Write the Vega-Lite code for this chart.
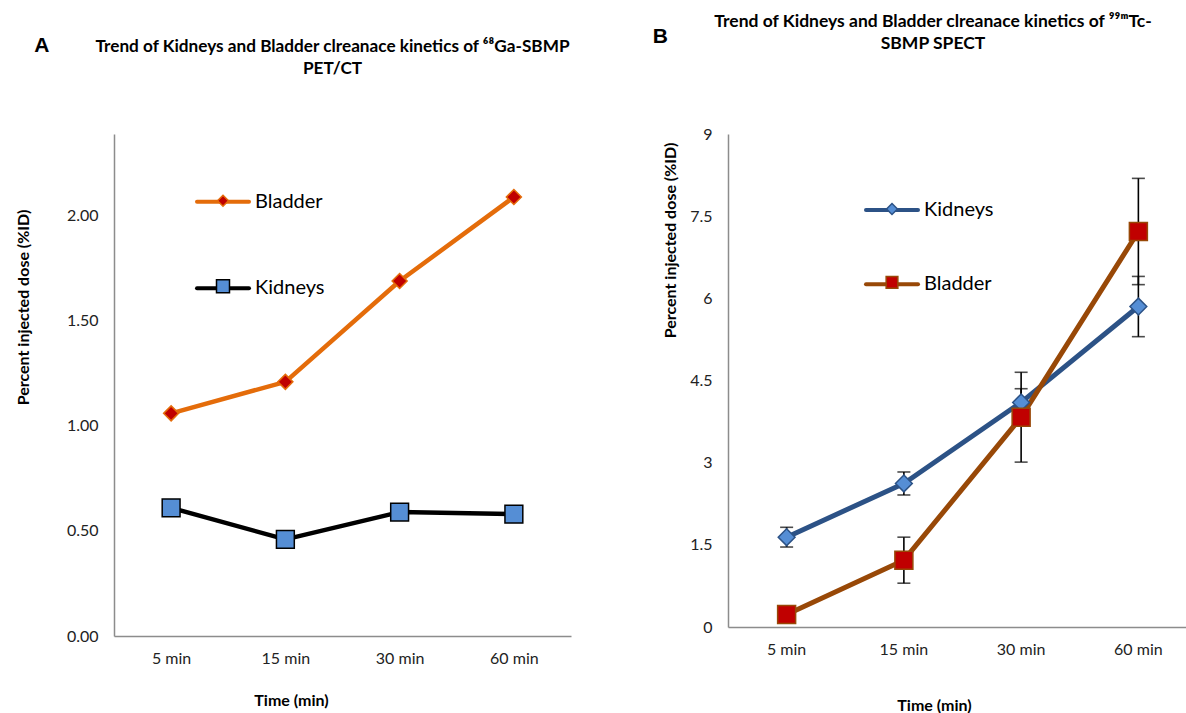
{
  "$schema": "https://vega.github.io/schema/vega-lite/v6.json",
  "background": "white",
  "padding": {"left": 15, "top": 12, "right": 0, "bottom": 0},
  "config": {
    "view": {"stroke": null},
    "font": "Lato",
    "axis": {
      "labelFont": "Lato", "labelFontSize": 16, "labelColor": "#222222",
      "titleFont": "Lato", "titleFontSize": 16, "titleFontWeight": "bold", "titleColor": "#000000",
      "domainColor": "#8c8c8c", "domainWidth": 1.5, "ticks": false, "grid": false
    }
  },
  "datasets": {
    "a": [
      {"time": "5 min", "series": "Bladder", "value": 1.06},
      {"time": "15 min", "series": "Bladder", "value": 1.21},
      {"time": "30 min", "series": "Bladder", "value": 1.69},
      {"time": "60 min", "series": "Bladder", "value": 2.09},
      {"time": "5 min", "series": "Kidneys", "value": 0.61},
      {"time": "15 min", "series": "Kidneys", "value": 0.46},
      {"time": "30 min", "series": "Kidneys", "value": 0.59},
      {"time": "60 min", "series": "Kidneys", "value": 0.58}
    ],
    "b": [
      {"time": "5 min", "series": "Kidneys", "value": 1.64, "err": 0.18},
      {"time": "15 min", "series": "Kidneys", "value": 2.62, "err": 0.21},
      {"time": "30 min", "series": "Kidneys", "value": 4.10, "err": 0.25},
      {"time": "60 min", "series": "Kidneys", "value": 5.85, "err": 0.55},
      {"time": "5 min", "series": "Bladder", "value": 0.23, "err": 0.1},
      {"time": "15 min", "series": "Bladder", "value": 1.22, "err": 0.42},
      {"time": "30 min", "series": "Bladder", "value": 3.83, "err": 0.82},
      {"time": "60 min", "series": "Bladder", "value": 7.22, "err": 0.97}
    ]
  },
  "spacing": 81,
  "resolve": {
    "scale": {"color": "independent", "stroke": "independent", "fill": "independent", "shape": "independent"},
    "legend": {"color": "independent", "stroke": "independent", "fill": "independent", "shape": "independent"}
  },
  "hconcat": [
    {
      "title": {"text": "A", "orient": "left", "anchor": "end", "frame": "bounds", "angle": 0, "align": "left", "baseline": "top", "offset": 0, "dx": 34.5, "dy": -3, "font": "Liberation Sans", "fontSize": 21, "fontWeight": "bold", "color": "#000000"},
      "hconcat": [
        {
          "width": 457,
          "height": 502,
          "title": {"text": ["Trend of Kidneys and Bladder clreanace kinetics of ⁶⁸Ga-SBMP", "PET/CT"], "anchor": "middle", "frame": "group", "offset": 38.5, "dx": -10, "font": "Lato", "fontSize": 17.2, "fontWeight": "bold", "lineHeight": 22.6, "baseline": "bottom", "color": "#000000"},
          "data": {"name": "a"},
          "encoding": {
            "x": {"field": "time", "type": "nominal", "sort": ["5 min", "15 min", "30 min", "60 min"],
              "axis": {"labelAngle": 0, "labelPadding": 14, "title": "Time (min)", "titleX": 177, "titleY": 64, "titleBaseline": "middle", "titleAlign": "center"}},
            "y": {"field": "value", "type": "quantitative", "scale": {"domain": [0, 2.39], "nice": false, "zero": true},
              "axis": {"values": [0, 0.5, 1, 1.5, 2], "format": ".2f", "labelPadding": 16, "title": "Percent injected dose  (%ID)", "titleX": -91, "titleY": 173, "titleAngle": 270, "titleBaseline": "middle", "titleAlign": "center"}}
          },
          "layer": [
            {
              "mark": {"type": "line", "strokeWidth": 4.5, "strokeJoin": "round", "strokeCap": "round"},
              "encoding": {
                "color": {"field": "series", "type": "nominal", "scale": {"domain": ["Bladder", "Kidneys"], "range": ["#E46C0A", "#000000"]},
                  "legend": {"orient": "none", "legendX": 81, "legendY": 39.7, "title": null, "symbolType": "M-1,0H1", "symbolSize": 2704, "symbolStrokeWidth": 4, "labelFont": "Lato", "labelFontSize": 20, "labelColor": "#000000", "labelOffset": 4, "rowPadding": 48.6, "padding": 0, "zindex": 0,
                    "encode": {"symbols": {"update": {"strokeCap": {"value": "round"}, "opacity": {"value": 1}}}}}}
              }
            },
            {
              "mark": {"type": "point", "filled": true, "size": 5100, "strokeWidth": 1.5, "opacity": 1},
              "encoding": {
                "stroke": {"field": "series", "type": "nominal", "scale": {"range": ["#E46C0A", "#000000"]},
                  "legend": {"orient": "none", "legendX": 82, "legendY": 39.7, "title": null, "symbolSize": 2704, "symbolStrokeWidth": 1.5, "symbolOpacity": 1, "labelFont": "Lato", "labelFontSize": 20, "labelOpacity": 0, "labelOffset": 4, "rowPadding": 48.6, "padding": 0, "zindex": 1}},
                "fill": {"field": "series", "type": "nominal", "scale": {"range": ["#C00000", "#558ED5"]},
                  "legend": {"orient": "none", "legendX": 82, "legendY": 39.7, "title": null, "symbolSize": 2704, "symbolStrokeWidth": 1.5, "symbolOpacity": 1, "labelFont": "Lato", "labelFontSize": 20, "labelOpacity": 0, "labelOffset": 4, "rowPadding": 48.6, "padding": 0, "zindex": 1}},
                "shape": {"field": "series", "type": "nominal", "scale": {"range": ["M0,-0.21L0.21,0L0,0.21L-0.21,0Z", "M-0.25,-0.25H0.25V0.25H-0.25Z"]},
                  "legend": {"orient": "none", "legendX": 82, "legendY": 39.7, "title": null, "symbolSize": 2704, "symbolStrokeWidth": 1.5, "symbolOpacity": 1, "labelFont": "Lato", "labelFontSize": 20, "labelOpacity": 0, "labelOffset": 4, "rowPadding": 48.6, "padding": 0, "zindex": 1}}
              }
            }
          ]
        }
      ]
    },
    {
      "title": {"text": "B", "orient": "left", "anchor": "end", "frame": "bounds", "angle": 0, "align": "left", "baseline": "top", "offset": 0, "dx": 6, "dy": 13.5, "font": "Liberation Sans", "fontSize": 21, "fontWeight": "bold", "color": "#000000"},
      "hconcat": [
        {
          "width": 469,
          "height": 493,
          "title": {"text": ["Trend of Kidneys and Bladder clreanace kinetics of ⁹⁹ᵐTc-", "SBMP SPECT"], "anchor": "middle", "frame": "group", "offset": 55, "dx": -29.5, "font": "Lato", "fontSize": 17.5, "fontWeight": "bold", "lineHeight": 22.6, "baseline": "bottom", "color": "#000000"},
          "data": {"name": "b"},
          "encoding": {
            "x": {"field": "time", "type": "nominal", "sort": ["5 min", "15 min", "30 min", "60 min"],
              "axis": {"labelAngle": 0, "labelPadding": 14, "title": "Time (min)", "titleX": 206, "titleY": 78, "titleBaseline": "middle", "titleAlign": "center"}},
            "y": {"field": "value", "type": "quantitative", "scale": {"domain": [0, 9], "nice": false, "zero": true},
              "axis": {"values": [0, 1.5, 3, 4.5, 6, 7.5, 9], "format": ".1~f", "labelPadding": 16, "title": "Percent injected dose (%ID)", "titleX": -58, "titleY": 106, "titleAngle": 270, "titleBaseline": "middle", "titleAlign": "center"}}
          },
          "layer": [
            {
              "mark": {"type": "errorbar", "color": "#000000", "ticks": {"size": 13, "thickness": 1.6, "color": "#000000"}, "rule": {"strokeWidth": 1.6, "color": "#000000"}},
              "encoding": {
                "y": {"field": "value", "type": "quantitative"},
                "yError": {"field": "err"}
              }
            },
            {
              "mark": {"type": "line", "strokeWidth": 5, "strokeJoin": "round", "strokeCap": "round"},
              "encoding": {
                "color": {"field": "series", "type": "nominal", "scale": {"domain": ["Kidneys", "Bladder"], "range": ["#2C5286", "#984807"]},
                  "legend": {"orient": "none", "legendX": 136, "legendY": 48, "title": null, "symbolType": "M-1,0H1", "symbolSize": 2704, "symbolStrokeWidth": 4, "labelFont": "Lato", "labelFontSize": 20, "labelColor": "#000000", "labelOffset": 4, "rowPadding": 36.3, "padding": 0, "zindex": 0,
                    "encode": {"symbols": {"update": {"strokeCap": {"value": "round"}, "opacity": {"value": 1}}}}}}
              }
            },
            {
              "mark": {"type": "point", "filled": true, "size": 6400, "strokeWidth": 1.5, "opacity": 1},
              "encoding": {
                "stroke": {"field": "series", "type": "nominal", "sort": "descending", "scale": {"range": ["#2C5286", "#984807"]},
                  "legend": {"orient": "none", "legendX": 137, "legendY": 48, "title": null, "symbolSize": 2704, "symbolStrokeWidth": 1.5, "symbolOpacity": 1, "labelFont": "Lato", "labelFontSize": 20, "labelOpacity": 0, "labelOffset": 4, "rowPadding": 36.3, "padding": 0, "zindex": 1}},
                "fill": {"field": "series", "type": "nominal", "sort": "descending", "scale": {"range": ["#558ED5", "#C00000"]},
                  "legend": {"orient": "none", "legendX": 137, "legendY": 48, "title": null, "symbolSize": 2704, "symbolStrokeWidth": 1.5, "symbolOpacity": 1, "labelFont": "Lato", "labelFontSize": 20, "labelOpacity": 0, "labelOffset": 4, "rowPadding": 36.3, "padding": 0, "zindex": 1}},
                "shape": {"field": "series", "type": "nominal", "sort": "descending", "scale": {"range": ["M0,-0.21L0.21,0L0,0.21L-0.21,0Z", "M-0.225,-0.225H0.225V0.225H-0.225Z"]},
                  "legend": {"orient": "none", "legendX": 137, "legendY": 48, "title": null, "symbolSize": 2704, "symbolStrokeWidth": 1.5, "symbolOpacity": 1, "labelFont": "Lato", "labelFontSize": 20, "labelOpacity": 0, "labelOffset": 4, "rowPadding": 36.3, "padding": 0, "zindex": 1}}
              }
            }
          ]
        }
      ]
    }
  ]
}
